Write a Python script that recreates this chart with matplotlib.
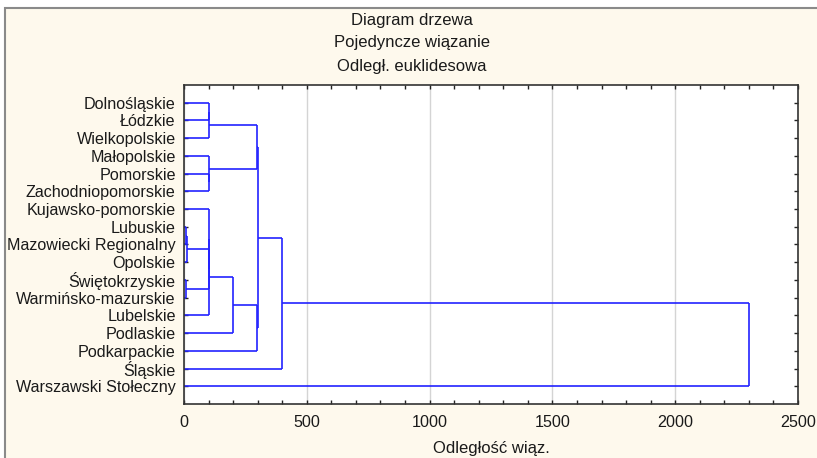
import numpy as np
import matplotlib
matplotlib.use('Agg')
import matplotlib.pyplot as plt
from matplotlib.patches import Rectangle

plt.rcParams['font.family'] = ['Liberation Sans', 'DejaVu Sans']

# liście drzewa (od góry)
labels = ['Dolnośląskie', 'Łódzkie', 'Wielkopolskie', 'Małopolskie', 'Pomorskie',
          'Zachodniopomorskie', 'Kujawsko-pomorskie', 'Lubuskie', 'Mazowiecki Regionalny',
          'Opolskie', 'Świętokrzyskie', 'Warmińsko-mazurskie', 'Lubelskie', 'Podlaskie',
          'Podkarpackie', 'Śląskie', 'Warszawski Stołeczny']

# kolejne połączenia: (lewy, prawy, odległość); nowe skupienia mają numery od 17
merge_left = [7, 17, 10, 0, 20, 4, 3, 18, 6, 25, 26, 21, 27, 28, 30, 31]
merge_right = [8, 9, 11, 1, 2, 5, 22, 19, 24, 12, 13, 23, 14, 29, 15, 16]
merge_dist = [8, 12, 10, 100, 102, 100, 102, 100, 101, 103, 200, 296, 298, 300, 400, 2300]

x_ticks = [0, 500, 1000, 1500, 2000, 2500]

title_lines = ['Diagram drzewa', 'Pojedyncze wiązanie', 'Odległ. euklidesowa']
xlabel = 'Odległość wiąz.'

line_color = '#2222ff'
text_color = '#1a1a1a'
fs = 12
fs_lab = 11.6

fig = plt.figure(figsize=(8.17, 4.58), dpi=100, facecolor='white')

# kremowe tło z ramką
W, H = 817, 458
bg = Rectangle((5 / W, -0.1), 1.2, 1.1 - 8 / H, transform=fig.transFigure,
               facecolor='#fef9ed', edgecolor='#8a8a8a', linewidth=1.5, zorder=-10)
fig.add_artist(bg)

ax = fig.add_axes([184 / W, 1 - 404 / H, (798 - 184) / W, (404 - 85) / H])
ax.set_facecolor('white')

# pozycje węzłów
n = len(labels)
node_x = [0.0] * n
node_y = [float(i + 1) for i in range(n)]
for a, b, d in zip(merge_left, merge_right, merge_dist):
    ax.plot([node_x[a], d], [node_y[a], node_y[a]], color=line_color, lw=1.2, solid_capstyle='butt')
    ax.plot([node_x[b], d], [node_y[b], node_y[b]], color=line_color, lw=1.2, solid_capstyle='butt')
    ax.plot([d, d], [node_y[a], node_y[b]], color=line_color, lw=1.2, solid_capstyle='butt')
    node_x.append(d)
    node_y.append((node_y[a] + node_y[b]) / 2)

ax.set_xlim(0, 2500)
ax.set_ylim(n + 1, 0)
ax.set_xticks(x_ticks)
ax.set_xticklabels([str(t) for t in x_ticks], fontsize=fs_lab, color=text_color)
ax.set_xticks(np.arange(0, 2501, 100), minor=True)
ax.set_yticks(np.arange(1, n + 1))
ax.set_yticklabels(labels, fontsize=fs_lab, color=text_color)
ax.tick_params(axis='both', which='both', direction='in', top=True, right=True,
               length=3, width=1, color='#222222')
ax.tick_params(axis='x', pad=8)
ax.tick_params(axis='y', pad=6)
ax.grid(axis='x', which='major', color='#d4d4d4', lw=1)
ax.set_axisbelow(True)
for s in ax.spines.values():
    s.set_color('#333333')
    s.set_linewidth(1.2)

ax.set_xlabel(xlabel, fontsize=fs, color=text_color, labelpad=8)

for i, t in enumerate(title_lines):
    fig.text(412 / W, 1 - (20 + 23 * i) / H, t, ha='center', va='center',
             fontsize=fs, color=text_color)

fig.savefig('out.png', dpi=100, facecolor=fig.get_facecolor())
